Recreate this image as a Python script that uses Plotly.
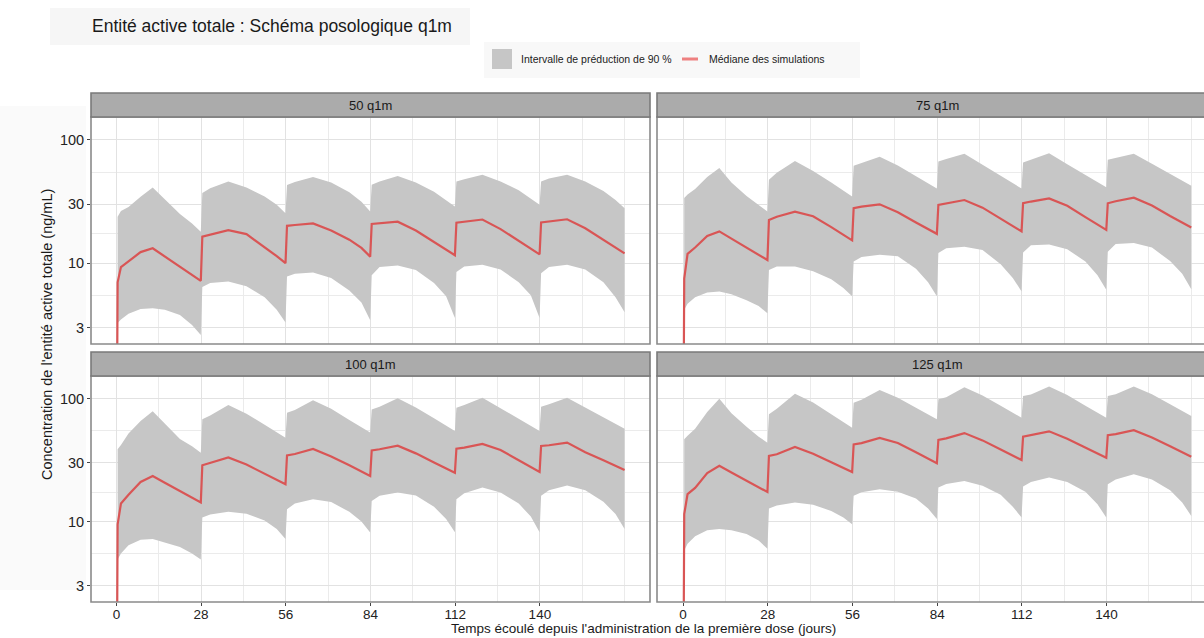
import plotly.graph_objects as go

TITLE = "Entité active totale : Schéma posologique q1m"
PANELS = ["50 q1m", "75 q1m", "100 q1m", "125 q1m"]
X_LABEL = "Temps écoulé depuis l'administration de la première dose (jours)"
Y_LABEL = "Concentration de l'entité active totale (ng/mL)"
LEGEND_BAND = "Intervalle de préduction de 90 %"
LEGEND_MEDIAN = "Médiane des simulations"

DAYS = [0, 0.4, 1.5, 4, 8, 12, 16, 21, 25, 27.9,
        28.4, 31, 37, 43, 49, 53, 55.9,
        56.4, 59, 65, 71, 77, 81, 83.9,
        84.4, 87, 93, 99, 105, 109, 111.9,
        112.4, 115, 121, 127, 133, 137, 139.9,
        140.4, 143, 149, 155, 161, 165, 168]

MED_50 = [0.1, 7.0, 9.3, 10.3, 12.3, 13.2, 11.3, 9.4, 8.0, 7.2,
          16.4, 17.0, 18.5, 17.2, 13.5, 11.4, 10.0,
          20.1, 20.4, 21.0, 18.4, 15.5, 13.3, 11.3,
          20.8, 21.1, 21.7, 18.4, 14.9, 12.9, 11.6,
          21.3, 21.6, 22.6, 18.9, 15.2, 13.2, 11.8,
          21.4, 21.8, 22.7, 19.2, 15.5, 13.4, 12.0]
HI_50 = [None, 23.8, 26.5, 28.5, 34.5, 41, 33, 25, 21, 18,
         37, 40.5, 46, 41, 34.8, 29.7, 25.4,
         43, 45.5, 50, 45, 37.5, 31.5, 26.2,
         43.2, 46, 51, 45, 38, 32.6, 28.8,
         45.9, 48, 52, 46, 39, 33.5, 29.7,
         45.9, 48.5, 52, 46, 38.5, 32.5, 27.9]
LO_50 = [None, 3.27, 3.5, 3.9, 4.25, 4.32, 4.2, 3.8, 3.15, 2.62,
         6.4, 6.9, 7.1, 6.5, 5.3, 4.2, 3.3,
         7.8, 8.2, 8.4, 7.6, 6.0, 4.8, 3.45,
         8.0, 9.3, 9.6, 8.8, 6.9, 5.4, 3.6,
         8.5, 9.4, 9.7, 8.9, 7.0, 5.5, 3.6,
         8.3, 9.3, 9.7, 8.9, 7.0, 5.3, 4.0]

MED_75 = [0.1, 7.5, 11.9, 13.4, 16.6, 18.1, 15.8, 13.3, 11.6, 10.6,
          22.4, 23.8, 26.2, 24.0, 19.6, 17.0, 15.3,
          27.9, 28.7, 30.0, 25.9, 21.4, 18.9, 17.3,
          29.7, 30.6, 32.5, 28.2, 22.8, 19.9, 18.1,
          30.6, 31.6, 33.5, 29.2, 23.6, 20.5, 18.6,
          30.6, 31.8, 34.0, 29.3, 24.1, 21.3, 19.5]
HI_75 = [None, 33.7, 36, 40, 50, 59, 45, 35, 29.5, 26.2,
         47.4, 54, 67.5, 56, 45, 39, 34.8,
         61.5, 64.5, 73, 62, 50.6, 44.3, 40.3,
         66.7, 70, 77, 63, 51, 44.5, 40.3,
         65.5, 69, 78, 63.5, 52, 45.3, 41.3,
         68.9, 71, 77, 64, 53, 47, 42.4]
LO_75 = [None, 4.19, 4.7, 5.3, 5.8, 5.9, 5.6, 5.0, 4.5, 3.93,
         8.8, 9.4, 9.4, 8.6, 7.4, 6.3, 5.4,
         10.3, 11.2, 11.7, 11.4, 9.0, 7.0, 5.4,
         12.1, 13.2, 13.6, 12.8, 9.8, 7.6, 5.9,
         12.2, 14.0, 14.2, 13.0, 10.3, 8.0, 6.1,
         12.4, 14.3, 14.6, 13.4, 10.4, 8.2, 6.15]

MED_100 = [0.1, 9.5, 14.0, 16.5, 21.0, 23.5, 20.7, 17.7, 15.6, 14.3,
           28.7, 30.0, 33.3, 29.1, 24.5, 21.8, 20.1,
           34.6, 35.5, 39.0, 33.9, 28.7, 25.6, 23.5,
           38.0, 38.8, 41.5, 35.9, 30.3, 27.0, 25.0,
           39.2, 40.0, 42.8, 38.2, 31.6, 27.9, 25.3,
           41.2, 41.8, 43.9, 36.7, 31.5, 28.4, 26.3]
HI_100 = [None, 38.7, 42, 52, 66, 79, 63, 47, 41, 36.4,
          68, 73, 89, 75.6, 61.3, 53.4, 48.2,
          76.9, 81, 97, 82.9, 67.2, 58.5, 53,
          81.8, 86, 101, 85, 69.3, 60.4, 54.6,
          84.5, 89, 102, 83.7, 68.6, 60.0, 54.6,
          86, 90, 102, 84.8, 70.6, 62.6, 57]
LO_100 = [None, 4.9, 5.5, 6.4, 7.1, 7.2, 6.7, 6.2, 5.5, 4.9,
          10.8, 11.4, 12.0, 11.6, 10.2, 8.7, 7.2,
          12.6, 14.0, 15.2, 14.4, 12.0, 10.0, 8.15,
          14.7, 16.2, 17.2, 16.3, 13.2, 10.5, 8.2,
          15.2, 17.0, 18.9, 17.2, 14.0, 11.0, 8.2,
          16.2, 18.0, 19.7, 18.0, 14.5, 11.5, 8.7]

MED_125 = [0.1, 11.5, 16.7, 18.8, 24.8, 28.4, 25.1, 21.5, 19.0, 17.4,
           34.2, 35.3, 40.5, 35.7, 30.4, 27.4, 25.3,
           42.5, 43.5, 48.0, 43.6, 36.6, 32.5, 29.8,
           46.1, 47.5, 52.5, 45.8, 38.6, 34.5, 31.7,
           49.1, 50.5, 54.3, 47.3, 40.1, 35.9, 33.1,
           50.4, 51.5, 55.4, 48.4, 41.0, 36.7, 33.7]
HI_125 = [None, 46.7, 50, 57, 78, 100, 76, 59, 49, 43.9,
          74.6, 83, 110, 93, 74.8, 64.6, 58.1,
          92.8, 98, 118, 102, 84.3, 74.3, 68,
          98.8, 103, 124, 106, 87.5, 77, 70.1,
          105, 108, 126, 107, 87.7, 77, 70,
          105, 109, 126, 108.7, 90, 79.5, 72.3]
LO_125 = [None, 5.8, 6.6, 7.6, 8.5, 8.7, 8.5, 7.9, 7.0, 6.0,
          12.8, 13.5, 14.3, 13.7, 12.2, 10.8, 9.5,
          16.2, 17.3, 18.3, 17.5, 15.4, 12.8, 10.5,
          18.9, 20.2, 21.4, 19.6, 16.5, 13.2, 10.8,
          19.3, 21.0, 22.8, 21.0, 17.5, 13.8, 10.8,
          20.1, 22.0, 24.3, 22.0, 18.0, 14.3, 11.1]

X_TICKS = [0, 28, 56, 84, 112, 140]
X_MINOR = [14, 42, 70, 98, 126, 154, 168]
Y_TICKS = [3, 10, 30, 100]
Y_MINOR = [5.48, 17.3, 54.8]

MEDIANS = [MED_50, MED_75, MED_100, MED_125]
HIGHS = [HI_50, HI_75, HI_100, HI_125]
LOWS = [LO_50, LO_75, LO_100, LO_125]

# ---------------- styling / layout ----------------
W, H = 1204, 638
FONT = "Liberation Sans, Arial, Helvetica, sans-serif"
BAND_COLOR = "#c6c6c6"
MED_COLOR = "#d95555"
BORDER = "#8a8a8a"
STRIP_FILL = "#ababab"


def px(x):
    return x / W


def py(y):
    return 1 - y / H


# panel geometry in pixels: (left, right, top, bottom); strip above top
PANEL_BOX = [(91, 650, 117, 344), (657, 1217, 117, 344),
             (91, 650, 376, 602), (657, 1217, 376, 602)]
STRIP_H = 24
X_RANGES = [[-8.4, 176.4], [-8.6, 172.2], [-8.4, 176.4], [-8.6, 172.2]]
Y_RANGE = [0.345, 2.185]

fig = go.Figure()
shapes = []
annotations = []

for i, name in enumerate(PANELS):
    suffix = "" if i == 0 else str(i + 1)
    xa, ya = "x" + suffix, "y" + suffix
    band_t = [t for t, v in zip(DAYS, LOWS[i]) if v is not None]
    band_lo = [v for v in LOWS[i] if v is not None]
    band_hi = [v for v in HIGHS[i] if v is not None]
    fig.add_trace(go.Scatter(x=band_t, y=band_lo, mode="lines",
                             line=dict(width=0, color=BAND_COLOR),
                             xaxis=xa, yaxis=ya, showlegend=False,
                             hoverinfo="skip"))
    fig.add_trace(go.Scatter(x=band_t, y=band_hi, mode="lines",
                             line=dict(width=0, color=BAND_COLOR),
                             fill="tonexty", fillcolor=BAND_COLOR,
                             xaxis=xa, yaxis=ya, showlegend=False,
                             name=LEGEND_BAND))
    fig.add_trace(go.Scatter(x=DAYS, y=MEDIANS[i], mode="lines",
                             line=dict(width=2.2, color=MED_COLOR),
                             xaxis=xa, yaxis=ya, showlegend=False,
                             name=LEGEND_MEDIAN))

    l, r, t, b = PANEL_BOX[i]
    left_col = i in (0, 2)
    bottom_row = i in (2, 3)
    xdom = [px(l), min(1.0, px(r))]
    ydom = [py(b), py(t)]
    fig.layout["xaxis" + suffix] = dict(
        domain=xdom, range=X_RANGES[i], anchor=ya,
        showgrid=True, gridcolor="#e2e2e2", gridwidth=1,
        tickmode="array", tickvals=X_TICKS,
        ticktext=[str(v) for v in X_TICKS],
        showticklabels=bottom_row,
        ticks="outside" if bottom_row else "", ticklen=3,
        tickcolor="#444", tickwidth=1, ticklabelstandoff=-3,
        tickfont=dict(family=FONT, size=13.5, color="#222"),
        minor=dict(tickvals=X_MINOR, showgrid=True, gridcolor="#ebebeb",
                   gridwidth=0.8, ticks=""),
        zeroline=False, showline=False, fixedrange=True)
    fig.layout["yaxis" + suffix] = dict(
        domain=ydom, range=Y_RANGE, type="log", anchor=xa,
        showgrid=True, gridcolor="#e2e2e2", gridwidth=1,
        tickmode="array", tickvals=Y_TICKS,
        ticktext=[str(v) for v in Y_TICKS],
        showticklabels=left_col,
        ticks="outside" if left_col else "", ticklen=3,
        tickcolor="#444", tickwidth=1,
        tickfont=dict(family=FONT, size=14.5, color="#222"),
        minor=dict(tickvals=Y_MINOR, showgrid=True, gridcolor="#ebebeb",
                   gridwidth=0.8, ticks=""),
        zeroline=False, showline=False, fixedrange=True)

    # panel border
    shapes.append(dict(type="rect", xref="paper", yref="paper",
                       x0=px(l), x1=px(r), y0=py(b), y1=py(t),
                       line=dict(color=BORDER, width=1.6),
                       fillcolor="rgba(0,0,0,0)", layer="above"))
    # strip
    shapes.append(dict(type="rect", xref="paper", yref="paper",
                       x0=px(l), x1=px(r), y0=py(t), y1=py(t - STRIP_H),
                       line=dict(color="#7a7a7a", width=1.6),
                       fillcolor=STRIP_FILL, layer="above"))
    annotations.append(dict(text=name, xref="paper", yref="paper",
                            x=px((l + r) / 2), y=py(t - STRIP_H / 2),
                            xanchor="center", yanchor="middle",
                            showarrow=False,
                            font=dict(family=FONT, size=13, color="#1a1a1a")))

# faint background boxes (title / legend / left margin)
shapes.insert(0, dict(type="rect", xref="paper", yref="paper",
                      x0=px(50), x1=px(470), y0=py(45), y1=py(8),
                      line=dict(width=0), fillcolor="#f6f6f6", layer="below"))
shapes.insert(0, dict(type="rect", xref="paper", yref="paper",
                      x0=px(484), x1=px(860), y0=py(78), y1=py(42),
                      line=dict(width=0), fillcolor="#f8f8f8", layer="below"))
shapes.insert(0, dict(type="rect", xref="paper", yref="paper",
                      x0=px(0), x1=px(86), y0=py(590), y1=py(106),
                      line=dict(width=0), fillcolor="#fafafa", layer="below"))

# manual legend
shapes.append(dict(type="rect", xref="paper", yref="paper",
                   x0=px(492), x1=px(512), y0=py(69), y1=py(49),
                   line=dict(width=0), fillcolor=BAND_COLOR))
shapes.append(dict(type="line", xref="paper", yref="paper",
                   x0=px(682), x1=px(698), y0=py(59), y1=py(59),
                   line=dict(color="#ee8080", width=3)))
annotations.append(dict(text=LEGEND_BAND, xref="paper", yref="paper",
                        x=px(519), y=py(59), xanchor="left", yanchor="middle",
                        showarrow=False,
                        font=dict(family=FONT, size=10.5, color="#222")))
annotations.append(dict(text=LEGEND_MEDIAN, xref="paper", yref="paper",
                        x=px(707), y=py(59), xanchor="left", yanchor="middle",
                        showarrow=False,
                        font=dict(family=FONT, size=10.5, color="#222")))

# title and axis titles
annotations.append(dict(text=TITLE, xref="paper", yref="paper",
                        x=px(90), y=py(26), xanchor="left", yanchor="middle",
                        showarrow=False,
                        font=dict(family=FONT, size=17.5, color="#1a1a1a")))
annotations.append(dict(text=X_LABEL, xref="paper", yref="paper",
                        x=px(644), y=py(638), xanchor="center",
                        yanchor="bottom", showarrow=False,
                        font=dict(family=FONT, size=13.5, color="#1a1a1a")))
annotations.append(dict(text=Y_LABEL, xref="paper", yref="paper",
                        x=px(47), y=py(335), xanchor="center",
                        yanchor="middle", textangle=-90, showarrow=False,
                        font=dict(family=FONT, size=14.5, color="#1a1a1a")))

fig.update_layout(width=W, height=H, margin=dict(l=0, r=0, t=0, b=0),
                  paper_bgcolor="white", plot_bgcolor="white",
                  shapes=shapes, annotations=annotations, showlegend=False,
                  font=dict(family=FONT))

fig.write_html("out.html",
               config={"displayModeBar": False},
               post_script="document.body.style.margin='0';"
                           "document.body.style.overflow='hidden';")
